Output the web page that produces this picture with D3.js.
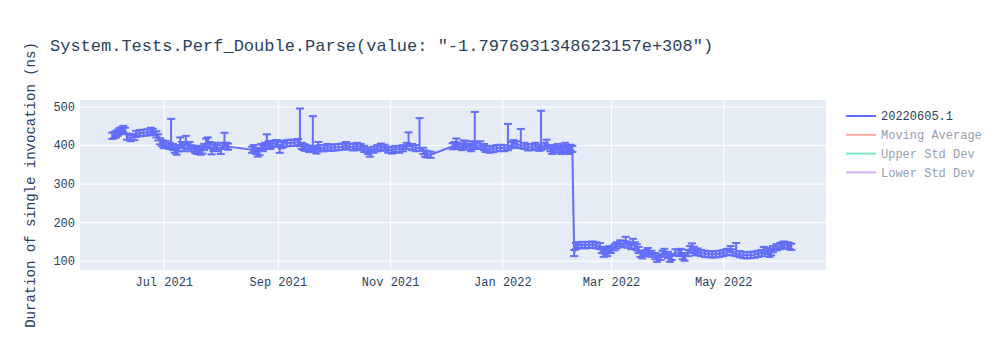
<html>
    <script src="https://d3js.org/d3.v7.min.js"></script>
    <head>
        <style>
        body {margin: 0; background: white;}
        text {font-family: 'Courier New', 'Liberation Mono', monospace; fill: #2a3f5f;}
        .grid line {stroke: white; stroke-width: 1px;}
        .errbar {stroke: #636efa; stroke-width: 2px;}
        .trace {stroke: #636efa; stroke-width: 2px; fill: none;}
        </style>
    </head>
    <body onload='init()'>
        <div id="chart"></div>

        <script>
            // one point per benchmark run
            var dates = [
                "2021-06-03","2021-06-04","2021-06-05","2021-06-06","2021-06-07","2021-06-08","2021-06-09","2021-06-10","2021-06-11","2021-06-13",
                "2021-06-15","2021-06-16","2021-06-18","2021-06-20","2021-06-22","2021-06-24","2021-06-25","2021-06-27","2021-06-28","2021-06-29",
                "2021-06-30","2021-07-01","2021-07-02","2021-07-04","2021-07-05","2021-07-06","2021-07-07","2021-07-08","2021-07-09","2021-07-10",
                "2021-07-11","2021-07-12","2021-07-13","2021-07-14","2021-07-15","2021-07-16","2021-07-18","2021-07-19","2021-07-20","2021-07-21",
                "2021-07-22","2021-07-23","2021-07-24","2021-07-25","2021-07-26","2021-07-27","2021-07-28","2021-07-29","2021-07-30","2021-08-01",
                "2021-08-02","2021-08-03","2021-08-04","2021-08-05","2021-08-18","2021-08-19","2021-08-20","2021-08-21","2021-08-22","2021-08-23",
                "2021-08-24","2021-08-25","2021-08-26","2021-08-27","2021-08-28","2021-08-29","2021-08-31","2021-09-01","2021-09-02","2021-09-03",
                "2021-09-04","2021-09-06","2021-09-08","2021-09-10","2021-09-12","2021-09-13","2021-09-14","2021-09-15","2021-09-16","2021-09-18",
                "2021-09-20","2021-09-21","2021-09-22","2021-09-23","2021-09-24","2021-09-26","2021-09-28","2021-09-30","2021-10-02","2021-10-04",
                "2021-10-06","2021-10-08","2021-10-10","2021-10-12","2021-10-14","2021-10-16","2021-10-18","2021-10-20","2021-10-21","2021-10-23",
                "2021-10-25","2021-10-27","2021-10-29","2021-10-31","2021-11-02","2021-11-04","2021-11-06","2021-11-08","2021-11-10","2021-11-11",
                "2021-11-13","2021-11-15","2021-11-17","2021-11-19","2021-11-20","2021-11-21","2021-11-23","2021-12-05","2021-12-06","2021-12-07",
                "2021-12-08","2021-12-10","2021-12-11","2021-12-12","2021-12-14","2021-12-15","2021-12-16","2021-12-17","2021-12-18","2021-12-20",
                "2021-12-22","2021-12-23","2021-12-25","2021-12-27","2021-12-29","2021-12-31","2022-01-02","2022-01-04","2022-01-06","2022-01-07",
                "2022-01-09","2022-01-11","2022-01-13","2022-01-15","2022-01-17","2022-01-19","2022-01-21","2022-01-22","2022-01-24","2022-01-25",
                "2022-01-27","2022-01-28","2022-01-29","2022-01-31","2022-02-01","2022-02-02","2022-02-03","2022-02-04","2022-02-05","2022-02-06",
                "2022-02-07","2022-02-08","2022-02-09","2022-02-10","2022-02-11","2022-02-13","2022-02-15","2022-02-17","2022-02-19","2022-02-21",
                "2022-02-23","2022-02-24","2022-02-25","2022-02-26","2022-02-27","2022-02-28","2022-03-01","2022-03-03","2022-03-04","2022-03-06",
                "2022-03-08","2022-03-09","2022-03-10","2022-03-12","2022-03-13","2022-03-14","2022-03-15","2022-03-16","2022-03-17","2022-03-18",
                "2022-03-20","2022-03-21","2022-03-23","2022-03-25","2022-03-26","2022-03-28","2022-03-29","2022-03-30","2022-04-01","2022-04-02",
                "2022-04-03","2022-04-05","2022-04-07","2022-04-08","2022-04-09","2022-04-10","2022-04-12","2022-04-13","2022-04-14","2022-04-15",
                "2022-04-16","2022-04-17","2022-04-19","2022-04-21","2022-04-23","2022-04-25","2022-04-27","2022-04-29","2022-05-01","2022-05-03",
                "2022-05-05","2022-05-06","2022-05-08","2022-05-10","2022-05-12","2022-05-14","2022-05-16","2022-05-18","2022-05-20","2022-05-22",
                "2022-05-23","2022-05-25","2022-05-26","2022-05-27","2022-05-28","2022-05-30","2022-06-01","2022-06-02","2022-06-03","2022-06-05",
                "2022-06-06","2022-06-07"
            ];
            var durations = [
                424,426,428,432,436,438,441,437,422,418,
                421,429,431,432,433,436,434,428,420,410,
                405,400,403,398,400,395,388,384,392,405,
                400,392,410,398,400,392,388,385,390,383,
                386,395,405,412,400,385,393,398,392,385,
                398,405,398,396,388,392,385,378,382,395,
                392,398,400,402,398,403,405,404,392,400,
                403,405,406,406,408,405,398,395,393,390,
                395,390,386,398,392,392,395,393,394,395,
                396,400,396,394,398,395,390,385,380,388,
                392,396,393,388,386,390,388,392,398,405,
                395,392,393,385,378,376,375,397,400,405,
                398,395,400,403,396,392,398,400,398,400,
                395,390,388,390,392,393,392,395,400,405,
                402,400,398,394,395,398,393,395,398,402,
                392,385,390,395,388,385,392,398,390,385,
                393,390,120,138,140,141,140,141,142,140,
                138,128,118,125,120,130,128,135,140,145,
                143,150,142,138,148,140,135,128,118,115,
                120,125,118,112,105,110,118,123,115,105,
                110,122,120,123,112,108,120,130,137,128,
                122,124,120,118,117,116,117,118,120,123,
                130,122,120,117,115,114,115,116,118,120,
                128,125,118,122,130,135,138,140,142,140,
                138,136
            ];
            var errUp = [
                8,8,8,8,8,8,9,8,8,8,
                8,8,8,8,8,9,8,8,8,8,
                8,8,8,8,68,8,8,8,8,15,
                8,8,14,8,8,8,8,8,8,8,
                8,8,12,8,8,8,8,8,8,8,
                8,27,8,8,8,8,8,8,8,8,
                8,8,28,8,8,8,8,8,8,8,
                8,8,8,8,8,90,8,8,8,8,
                80,8,8,10,8,8,8,8,8,8,
                8,8,8,8,8,8,8,8,8,8,
                8,8,8,8,8,8,8,8,8,28,
                8,8,77,8,8,8,8,8,8,12,
                8,8,12,8,8,8,12,86,8,10,
                8,8,8,8,8,8,8,60,8,8,
                8,42,8,8,8,8,8,94,8,12,
                8,8,8,8,8,8,8,8,8,8,
                8,8,8,8,8,8,8,8,8,8,
                8,8,8,8,8,8,8,8,8,8,
                8,12,8,8,9,8,8,8,8,8,
                8,8,8,8,8,8,8,8,8,8,
                8,8,8,8,8,8,8,8,8,8,
                8,8,8,8,8,8,8,8,8,8,
                8,8,26,8,8,8,8,8,8,8,
                8,8,8,8,8,8,8,8,8,8,
                8,8
            ];
            var errDown = [
                8,8,8,8,8,8,8,8,8,8,
                8,8,8,8,8,8,8,8,8,8,
                8,8,8,8,8,8,8,9,8,8,
                8,8,8,8,8,8,8,8,8,8,
                8,8,8,8,8,9,8,8,8,8,
                8,8,8,8,8,8,8,8,8,8,
                8,8,8,8,8,8,8,8,12,8,
                8,8,8,8,8,8,8,8,8,8,
                8,8,8,8,8,8,8,8,8,8,
                8,8,8,8,8,8,8,8,10,8,
                8,8,8,8,8,8,8,8,8,8,
                8,8,8,8,8,8,8,8,8,8,
                8,8,8,8,8,8,8,8,8,8,
                8,8,8,8,8,8,8,8,8,8,
                8,8,8,8,8,8,8,8,8,8,
                8,8,8,8,8,8,8,8,8,8,
                8,8,8,8,8,8,8,8,8,8,
                8,8,8,8,8,8,8,8,8,8,
                8,8,8,8,8,8,8,8,8,9,
                8,8,8,8,8,8,8,8,8,8,
                8,8,8,8,8,8,8,8,8,8,
                8,8,8,8,8,8,8,8,8,8,
                8,8,8,8,8,8,8,8,8,8,
                8,8,8,8,8,8,8,8,8,8,
                8,8
            ];

            var yTicks = [100, 200, 300, 400, 500];
            var xTicks = ["2021-07-01", "2021-09-01", "2021-11-01", "2022-01-01", "2022-03-01", "2022-05-01"];
            var legendNames = ["20220605.1", "Moving Average", "Upper Std Dev", "Lower Std Dev"];
            var legendColors = ["#636efa", "#EF553B", "#00cc96", "#ab63fa"];
            var titleText = 'System.Tests.Perf_Double.Parse(value: "-1.7976931348623157e+308")';

            function init(){
                var width = 1000;
                var height = 350;
                var left = 80, right = 826, top = 100, bottom = 270;
                var parse = d3.timeParse("%Y-%m-%d");

                var data = dates.map((d, i) => ({
                    date: parse(d), v: durations[i], up: errUp[i], down: errDown[i]
                }));

                var x = d3.scaleTime()
                    .domain([new Date(2021, 4, 16, 12), new Date(2022, 5, 25, 20)])
                    .range([left, right]);
                var y = d3.scaleLinear()
                    .domain([76, 517])
                    .range([bottom, top]);

                const svg = d3.select("#chart")
                    .append("svg")
                    .attr("width", width)
                    .attr("height", height);

                svg.append("rect") // plot background
                    .attr("x", left)
                    .attr("y", top)
                    .attr("width", right - left)
                    .attr("height", bottom - top)
                    .attr("fill", "#E5ECF6");

                var xaxis = d3.axisBottom(x)
                    .tickValues(xTicks.map(parse))
                    .tickFormat(d3.timeFormat("%b %Y"))
                    .tickSize(-(bottom - top))
                    .tickPadding(7);
                var yaxis = d3.axisLeft(y)
                    .tickValues(yTicks)
                    .tickSize(-(right - left))
                    .tickPadding(5);

                var gx = svg.append("g")
                    .attr("class", "grid")
                    .attr("transform", "translate(0," + bottom + ")")
                    .call(xaxis);
                var gy = svg.append("g")
                    .attr("class", "grid")
                    .attr("transform", "translate(" + left + ",0)")
                    .call(yaxis);
                [gx, gy].forEach(g => {
                    g.select(".domain").remove();
                    g.selectAll("text").attr("font-size", 12).style("font-family", "'Courier New', 'Liberation Mono', monospace").attr("fill", "#2a3f5f");
                });

                var plot = svg.append("g");

                // error bars
                var bars = plot.selectAll(".eb")
                    .data(data)
                    .enter()
                    .append("g");
                bars.append("line")
                    .attr("class", "errbar")
                    .attr("x1", d => x(d.date)).attr("x2", d => x(d.date))
                    .attr("y1", d => y(d.v + d.up)).attr("y2", d => y(d.v - d.down));
                bars.append("line")
                    .attr("class", "errbar")
                    .attr("x1", d => x(d.date) - 4).attr("x2", d => x(d.date) + 4)
                    .attr("y1", d => y(d.v + d.up)).attr("y2", d => y(d.v + d.up));
                bars.append("line")
                    .attr("class", "errbar")
                    .attr("x1", d => x(d.date) - 4).attr("x2", d => x(d.date) + 4)
                    .attr("y1", d => y(d.v - d.down)).attr("y2", d => y(d.v - d.down));

                var line = d3.line()
                    .x(d => x(d.date))
                    .y(d => y(d.v));
                plot.append("path")
                    .datum(data)
                    .attr("class", "trace")
                    .attr("d", line);

                svg.append("text") // title
                    .attr("x", 50)
                    .attr("y", 51)
                    .attr("font-size", 17)
                    .text(titleText);

                svg.append("text") // y-label
                    .attr("transform", "translate(35," + ((top + bottom) / 2) + ") rotate(-90)")
                    .attr("text-anchor", "middle")
                    .attr("font-size", 14)
                    .text("Duration of single invocation (ns)");

                // legend, last three traces hidden (legendonly)
                var legend = svg.selectAll(".leg")
                    .data(legendNames)
                    .enter()
                    .append("g")
                    .attr("transform", (d, i) => "translate(846," + (116 + i * 18.8) + ")")
                    .attr("opacity", (d, i) => i == 0 ? 1 : 0.5);
                legend.append("line")
                    .attr("x1", 0).attr("x2", 30)
                    .attr("stroke", (d, i) => legendColors[i])
                    .attr("stroke-width", 2);
                legend.append("text")
                    .attr("x", 35)
                    .attr("dy", "0.35em")
                    .attr("font-size", 12)
                    .text(d => d);
            }
        </script>
    </body>
</html>
